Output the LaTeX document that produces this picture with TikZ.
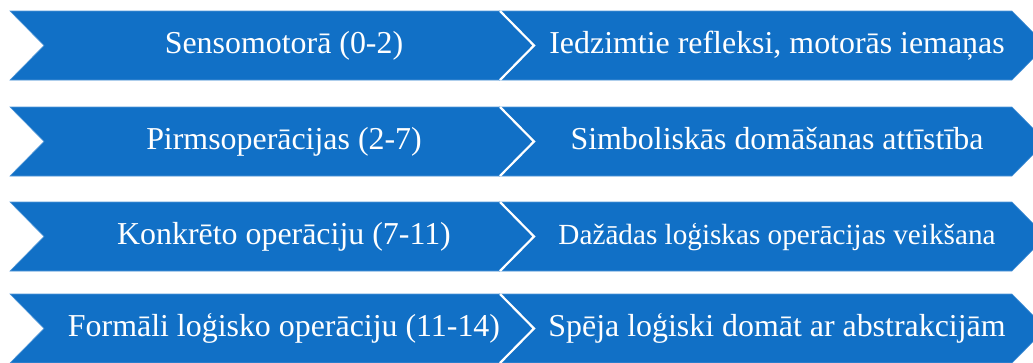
\documentclass[tikz,border=0pt]{standalone}
\usepackage{fontspec}
\setmainfont{Liberation Serif}
\definecolor{chevblue}{RGB}{17,112,198}
\definecolor{chevedge}{RGB}{80,150,215}
\begin{document}
\begin{tikzpicture}[x=1pt,y=-1pt,
  chev/.style={fill=chevblue,draw=chevedge,line width=0.6pt},
  sep/.style={draw=white,line width=2.2pt},
  lbl/.style={text=white,inner sep=0pt,anchor=base,font=\fontsize{31.9}{32}\selectfont},
  lblsmall/.style={lbl,font=\fontsize{29.2}{30}\selectfont}]
\useasboundingbox (0,0) rectangle (1033,362);
\clip (0,0) rectangle (1033,362);
\foreach \cy/\L/\R/\st [count=\i] in {
  45.5/{Sensomotorā (0-2)}/{Iedzimtie refleksi, motorās iemaņas}/lbl,
  141.5/{Pirmsoperācijas (2-7)}/{Simboliskās domāšanas attīstība}/lbl,
  236.5/{Konkrēto operāciju (7-11)}/{Dažādas loģiskas operācijas veikšana}/lblsmall,
  328.5/{Formāli loģisko operāciju (11-14)}/{Spēja loģiski domāt ar abstrakcijām}/lbl}{
  \def\h{34.5}
  \draw[chev] (10,\cy-\h) -- (500,\cy-\h) -- (534,\cy) -- (500,\cy+\h) -- (10,\cy+\h) -- (44,\cy) -- cycle;
  \draw[chev] (500,\cy-\h) -- (1012,\cy-\h) -- (1046,\cy) -- (1012,\cy+\h) -- (500,\cy+\h) -- (534,\cy) -- cycle;
  \draw[sep] (500,\cy-\h) -- (534,\cy) -- (500,\cy+\h);
  \node[lbl] (stage\i) at (284,\cy+8) {\L};
  \node[\st] (trait\i) at (777,\cy+8) {\R};
}
\end{tikzpicture}
\end{document}
